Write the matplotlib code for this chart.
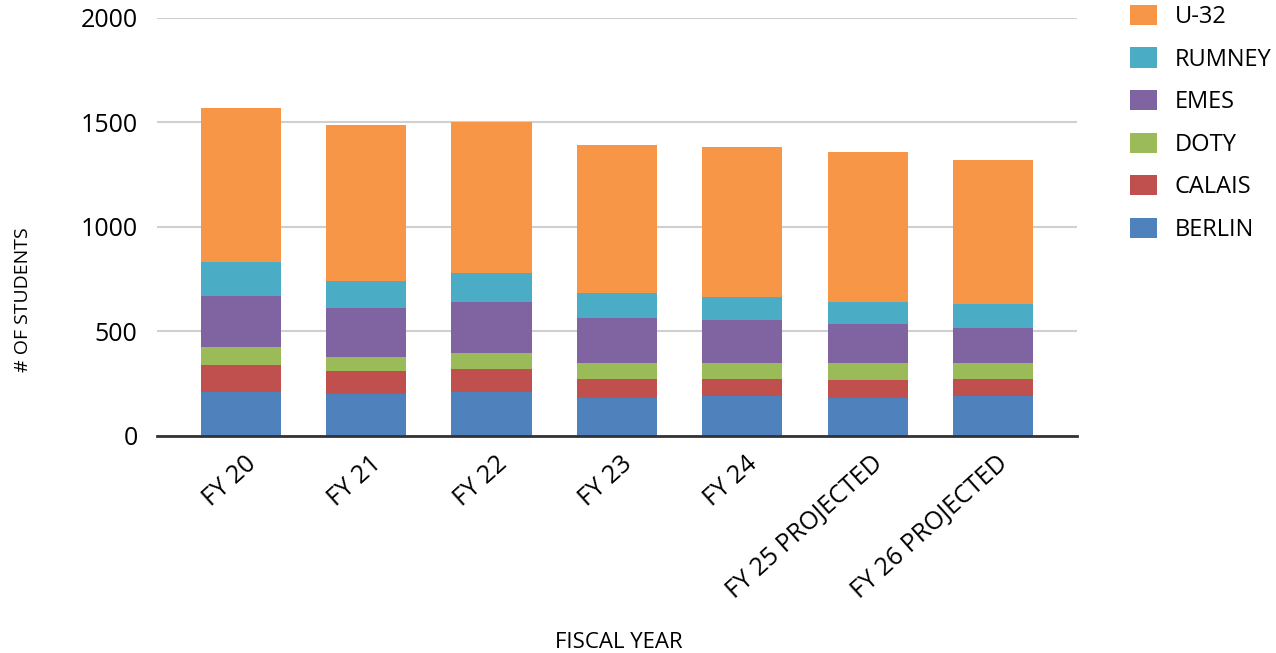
import matplotlib.pyplot as plt
import matplotlib.transforms as mtransforms
import numpy as np

plt.rcParams['font.family'] = ['Open Sans', 'DejaVu Sans']

# Data
years = ['FY 20', 'FY 21', 'FY 22', 'FY 23', 'FY 24',
         'FY 25 PROJECTED', 'FY 26 PROJECTED']
berlin = [209, 200, 209, 181, 190, 181, 190]
calais = [130, 110, 112, 92, 83, 83, 83]
doty = [85, 67, 74, 76, 76, 85, 76]
emes = [243, 232, 243, 214, 206, 187, 167]
rumney = [166, 133, 141, 121, 110, 102, 112]
u32 = [737, 744, 725, 708, 718, 718, 691]

series = [('BERLIN', berlin, '#4F81BD'),
          ('CALAIS', calais, '#C0504D'),
          ('DOTY', doty, '#9BBB59'),
          ('EMES', emes, '#8064A2'),
          ('RUMNEY', rumney, '#4BACC6'),
          ('U-32', u32, '#F79646')]

fig = plt.figure(figsize=(12.76, 6.53), dpi=100)
ax = fig.add_axes([0.123, 0.333, 0.721, 0.6395])

x = np.arange(len(years))
bottom = np.zeros(len(years))
handles = []
for name, vals, color in series:
    b = ax.bar(x, vals, width=0.64, bottom=bottom, color=color, label=name, zorder=3)
    handles.append(b)
    bottom += np.array(vals)

ax.set_ylim(0, 2000)
ax.set_xlim(-0.67, 6.67)
ax.set_yticks([0, 500, 1000, 1500, 2000])
ax.tick_params(axis='y', length=0, labelsize=18, pad=14)
ax.tick_params(axis='x', length=0, labelsize=18, pad=18)
ax.set_xticks(x)
ax.set_xticklabels(years, rotation=42, ha='right', va='center', rotation_mode='anchor')

# nudge rotated labels a bit to the right, like the original
offset = mtransforms.ScaledTranslation(0.12, 0, fig.dpi_scale_trans)
for lbl in ax.get_xticklabels():
    lbl.set_transform(lbl.get_transform() + offset)

ax.grid(axis='y', color='#D0D0D0', linewidth=1.5, zorder=0)
for s in ['top', 'right', 'left']:
    ax.spines[s].set_visible(False)
ax.spines['bottom'].set_color('#333333')
ax.spines['bottom'].set_linewidth(2)
ax.spines['bottom'].set_zorder(4)

ax.set_ylabel('# OF STUDENTS', fontsize=14)
ax.yaxis.set_label_coords(-0.136, 0.325)
ax.set_xlabel('FISCAL YEAR', fontsize=16)
ax.xaxis.set_label_coords(0.502, -0.47)

fig.legend(handles[::-1], [h.get_label() for h in handles[::-1]],
           loc='upper left', bbox_to_anchor=(0.878, 1.007), frameon=False,
           fontsize=17, handlelength=1.14, handleheight=0.93,
           handletextpad=0.76, labelspacing=0.78, borderaxespad=0)

fig.savefig('out.png', dpi=100)
